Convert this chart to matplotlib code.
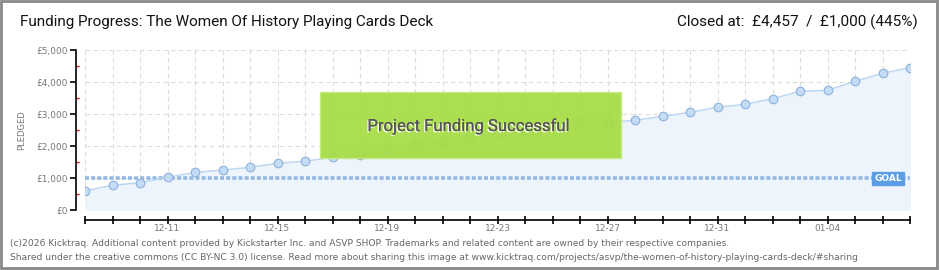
#!/usr/bin/env python3

import matplotlib
matplotlib.use("Agg")
import matplotlib.pyplot as plt
from matplotlib.patches import Rectangle
import matplotlib.patheffects as pe

# Daily pledged totals, 12-08 .. 01-07
dates = ["12-08", "12-09", "12-10", "12-11", "12-12", "12-13", "12-14", "12-15",
         "12-16", "12-17", "12-18", "12-19", "12-20", "12-21", "12-22", "12-23",
         "12-24", "12-25", "12-26", "12-27", "12-28", "12-29", "12-30", "12-31",
         "01-01", "01-02", "01-03", "01-04", "01-05", "01-06", "01-07"]
pledged = [612, 781, 862, 1031, 1187, 1259, 1344, 1469, 1531, 1656, 1719,
           1925, 2040, 2134, 2322, 2375, 2520, 2650, 2750, 2750, 2812, 2937,
           3062, 3219, 3312, 3488, 3719, 3750, 4031, 4281, 4457]
goal = 1000
y_ticks = [0, 1000, 2000, 3000, 4000, 5000]
y_labels = ["£0", "£1,000", "£2,000", "£3,000", "£4,000", "£5,000"]
labelled_dates = ["12-11", "12-15", "12-19", "12-23", "12-27", "12-31", "01-04"]

W, H = 940, 270
fig = plt.figure(figsize=(W / 100, H / 100), dpi=100)

def fx(px):
    return px / W

def fy(py):
    return 1 - py / H

# plot area in pixels: x 85..910, y 50..210
ax = fig.add_axes([fx(85), fy(210.3), fx(910) - fx(85), (210.3 - 50.3) / H])
days = list(range(len(dates)))

ax.fill_between(days, pledged, 0, color="#edf4fc", zorder=1)
ax.plot(days, pledged, color="#b9d5f3", lw=1, zorder=3)
ax.plot(days, pledged, "o", ms=6.2, mfc="#c4dcf6", mec="#8eb1db", mew=0.8, zorder=4)

# goal line
ax.axhline(goal, color="#93b8e2", lw=2.6, ls=(0, (1.1, 0.6)), zorder=2)
ax.text(29.2, goal, "GOAL", color="white", fontsize=6.5, fontweight="bold",
        ha="center", va="center", zorder=5,
        bbox=dict(boxstyle="square,pad=0.25", fc="#5b9ee6", ec="#5b9ee6"))

ax.set_xlim(0, len(dates) - 1)
ax.set_ylim(0, 5000)

# grid
for d in days:
    ax.axvline(d, color="#dcdcdc", lw=0.8, ls=(0, (4, 3)), zorder=0)
for t in y_ticks:
    ax.axhline(t, color="#dcdcdc", lw=0.8, ls=(0, (4, 3)), zorder=0)

# axes
for s in ["top", "right"]:
    ax.spines[s].set_visible(False)
ax.spines["left"].set_position(("outward", 6.5))
ax.spines["bottom"].set_position(("outward", 7.2))
ax.spines["left"].set_linewidth(1.2)
ax.spines["bottom"].set_linewidth(1.2)

ax.set_yticks(y_ticks)
ax.set_yticklabels(y_labels)
ax.set_yticks([500, 1500, 2500, 3500, 4500], minor=True)
ax.tick_params(axis="y", which="major", direction="out", length=4, width=1.2,
               labelsize=6.5, labelcolor="#777777", pad=2)
ax.tick_params(axis="y", which="minor", direction="in", length=2, width=1,
               color="red")

ax.set_xticks(days)
ax.set_xticklabels([d if d in labelled_dates else "" for d in dates])
ax.tick_params(axis="x", direction="inout", length=6, width=1.2,
               labelsize=6.5, labelcolor="#777777", pad=0)

fig.text(fx(22), fy(130), "PLEDGED", rotation=90, ha="center", va="center",
         fontsize=6, color="#777777")

# success banner
fig.patches.append(Rectangle((fx(320), fy(158.3)), fx(620.7) - fx(320),
                             (158.3 - 92.3) / H, transform=fig.transFigure,
                             fc="#a6dc44", ec="#c3ea80", lw=1, alpha=0.93, zorder=10))
fig.text(fx(468), fy(126), "Project Funding Successful", ha="center", va="center",
         fontsize=12, color="#555555", family="Roboto", zorder=11,
         path_effects=[pe.withSimplePatchShadow(offset=(-1, -1), shadow_rgbFace="white", alpha=0.9),
                       pe.Normal()])

# header and footer
fig.text(fx(20), fy(22), "Funding Progress: The Women Of History Playing Cards Deck",
         ha="left", va="center", fontsize=11, family="Roboto", color="#111111")
fig.text(fx(918), fy(22), "Closed at:  £4,457  /  £1,000 (445%)",
         ha="right", va="center", fontsize=11, family="Roboto", color="#111111")
fig.text(fx(10), fy(243), "(c)2026 Kicktraq. Additional content provided by Kickstarter Inc. and ASVP SHOP. "
         "Trademarks and related content are owned by their respective companies.",
         ha="left", va="center", fontsize=6.6, color="#666666")
fig.text(fx(10), fy(257), "Shared under the creative commons (CC BY-NC 3.0) license. Read more about sharing "
         "this image at www.kicktraq.com/projects/asvp/the-women-of-history-playing-cards-deck/#sharing",
         ha="left", va="center", fontsize=6.6, color="#666666")

# outer frame
fig.patches.append(Rectangle((fx(1), fy(268)), fx(936), 267 / H, transform=fig.transFigure,
                             fill=False, ec="#888888", lw=2, zorder=20))

fig.savefig("out.png", dpi=100)
